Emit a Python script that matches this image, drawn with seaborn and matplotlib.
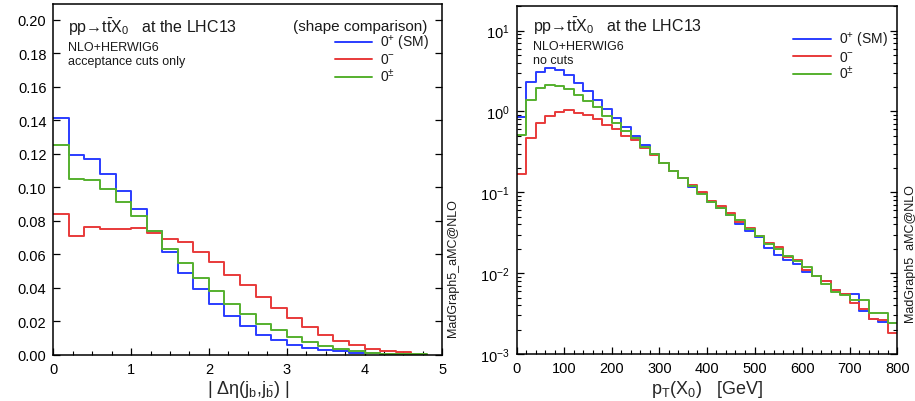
import numpy as np
import pandas as pd
import matplotlib
matplotlib.use("Agg")
import matplotlib.pyplot as plt
import seaborn as sns
from matplotlib.lines import Line2D
from matplotlib.ticker import MultipleLocator, FormatStrFormatter, LogLocator

# ---------------- data ----------------
# Left panel: |Delta eta(j_b, j_bbar)|, bins of 0.2 from 0 to 4.8
deta_edges = [round(0.2 * i, 1) for i in range(25)]
deta_sm = [0.141, 0.119, 0.117, 0.108, 0.098, 0.087, 0.074, 0.061, 0.049, 0.039,
           0.030, 0.023, 0.017, 0.012, 0.009, 0.006, 0.0037, 0.003, 0.002, 0.0012,
           0.0008, 0.0004, 0.0002, 0.0]
deta_minus = [0.084, 0.071, 0.076, 0.075, 0.075, 0.0755, 0.0725, 0.0693, 0.0671, 0.0611,
              0.0552, 0.0478, 0.0416, 0.0343, 0.0277, 0.0217, 0.0165, 0.0119, 0.0084, 0.0056,
              0.0036, 0.0022, 0.0014, 0.0]
deta_mix = [0.125, 0.105, 0.104, 0.099, 0.091, 0.083, 0.074, 0.063, 0.055, 0.046,
            0.038, 0.030, 0.024, 0.0185, 0.0147, 0.0106, 0.0074, 0.0054, 0.0036, 0.0022,
            0.0012, 0.0006, 0.0004, 0.0002]

# Right panel: pT(X0) [GeV], bins of 20 GeV from 0 to 800
pt_edges = list(range(0, 820, 20))
pt_sm = [0.85, 2.31, 3.07, 3.44, 3.28, 2.85, 2.24, 1.77, 1.38, 1.08,
         0.84, 0.64, 0.50, 0.39, 0.30, 0.23, 0.186, 0.150, 0.116, 0.097,
         0.076, 0.064, 0.053, 0.040, 0.033, 0.028, 0.0204, 0.017, 0.0144, 0.013,
         0.0103, 0.0091, 0.0080, 0.0062, 0.0055, 0.0055, 0.0034, 0.0027, 0.0025, 0.0024]
pt_minus = [0.17, 0.47, 0.72, 0.89, 0.98, 1.03, 0.96, 0.91, 0.80, 0.69,
            0.60, 0.50, 0.44, 0.35, 0.29, 0.23, 0.186, 0.150, 0.124, 0.100,
            0.079, 0.067, 0.055, 0.043, 0.036, 0.029, 0.0235, 0.021, 0.0157, 0.0144,
            0.0110, 0.0091, 0.0080, 0.0062, 0.0055, 0.0043, 0.0036, 0.0027, 0.0026, 0.0018]
pt_mix = [0.515, 1.40, 1.95, 2.10, 2.04, 1.91, 1.61, 1.34, 1.15, 0.88,
          0.72, 0.57, 0.47, 0.36, 0.30, 0.23, 0.186, 0.150, 0.120, 0.096,
          0.076, 0.064, 0.052, 0.045, 0.035, 0.029, 0.023, 0.020, 0.0165, 0.014,
          0.0119, 0.0091, 0.0074, 0.0059, 0.0053, 0.0046, 0.0046, 0.0032, 0.0032, 0.0024]

series_labels = [r"0$^{+}$ (SM)", r"0$^{-}$", r"0$^{\pm}$"]
colors = ["#2a3cff", "#e83a3a", "#55b02e"]

# ---------------- style ----------------
sns.set_style("ticks")
plt.rcParams["font.family"] = ["Liberation Sans", "DejaVu Sans"]
plt.rcParams["mathtext.fontset"] = "custom"
plt.rcParams["mathtext.rm"] = "Liberation Sans"
plt.rcParams["mathtext.it"] = "Liberation Sans:italic"
plt.rcParams["mathtext.bf"] = "Liberation Sans:bold"
plt.rcParams["axes.linewidth"] = 1.1
plt.rcParams["axes.edgecolor"] = "black"
plt.rcParams["text.color"] = "#1a1a1a"

fig = plt.figure(figsize=(9.15, 4.02), dpi=100)
axL = fig.add_axes([0.0583, 0.1152, 0.4251, 0.8731])
axR = fig.add_axes([0.5645, 0.1169, 0.4162, 0.8649])

def draw(ax, edges, series):
    edges = [float(e) for e in edges]
    centers = [0.5 * (a + b) for a, b in zip(edges[:-1], edges[1:])]
    for vals, c in zip(series, colors):
        df = pd.DataFrame({"x": centers, "w": vals})
        sns.histplot(data=df, x="x", weights="w", bins=edges, element="step",
                     fill=False, color=c, linewidth=1.4, ax=ax)

draw(axL, deta_edges, [deta_sm, deta_minus, deta_mix])
draw(axR, pt_edges, [pt_sm, pt_minus, pt_mix])

# ---- left axes ----
axL.set_xlim(0, 5)
axL.set_ylim(0, 0.2095)
axL.xaxis.set_major_locator(MultipleLocator(1))
axL.xaxis.set_minor_locator(MultipleLocator(0.25))
axL.yaxis.set_major_locator(MultipleLocator(0.02))
axL.yaxis.set_major_formatter(FormatStrFormatter("%.2f"))
axL.set_ylabel("")
axL.set_xlabel(r"| $\mathrm{\Delta\eta}$(j$_{\rm b}$,j$_{\bar{\rm b}}$) |", fontsize=13, labelpad=2)

# ---- right axes ----
axR.set_yscale("log")
axR.set_xlim(0, 800)
axR.set_ylim(1e-3, 20)
axR.xaxis.set_major_locator(MultipleLocator(100))
axR.xaxis.set_minor_locator(MultipleLocator(20))
axR.yaxis.set_major_locator(LogLocator(base=10, numticks=10))
axR.yaxis.set_minor_locator(LogLocator(base=10, subs=np.arange(2, 10), numticks=20))
axR.set_ylabel("")
axR.set_xlabel(r"p$_{\rm T}$(X$_0$)   [GeV]", fontsize=13, labelpad=2)

for ax in (axL, axR):
    for s in ax.spines.values():
        s.set_visible(True)
        s.set_linewidth(1.1)
    ax.tick_params(which="both", direction="in", top=False, right=True,
                   labelsize=10.5, colors="black", pad=5)
    ax.tick_params(which="major", length=5, width=0.9)
    ax.tick_params(which="minor", length=2.8, width=0.8)

# ---- annotations ----
title = "pp\u2192t$\\bar{\\rm t}$X$_0$   at the LHC13"
axL.text(0.038, 0.936, title, transform=axL.transAxes, fontsize=11.5, va="center", ha="left")
axL.text(0.038, 0.878, "NLO+HERWIG6", transform=axL.transAxes, fontsize=9, va="center", ha="left")
axL.text(0.038, 0.838, "acceptance cuts only", transform=axL.transAxes, fontsize=9, va="center", ha="left")
axL.text(0.962, 0.936, "(shape comparison)", transform=axL.transAxes, fontsize=11, va="center", ha="right")

axR.text(0.044, 0.944, title, transform=axR.transAxes, fontsize=11.5, va="center", ha="left")
axR.text(0.044, 0.887, "NLO+HERWIG6", transform=axR.transAxes, fontsize=9, va="center", ha="left")
axR.text(0.044, 0.846, "no cuts", transform=axR.transAxes, fontsize=9, va="center", ha="left")

handles = [Line2D([], [], color=c, lw=1.4) for c in colors]
axL.legend(handles, series_labels, loc="upper left", bbox_to_anchor=(0.716, 0.925),
           frameon=False, fontsize=10, handlelength=2.7, handletextpad=0.6,
           labelspacing=0.05, borderpad=0.2, borderaxespad=0)
axR.legend(handles, series_labels, loc="upper left", bbox_to_anchor=(0.72, 0.94),
           frameon=False, fontsize=10, handlelength=2.7, handletextpad=0.6,
           labelspacing=0.05, borderpad=0.2, borderaxespad=0)

fig.text(453 / 915, 1 - 268 / 402, "MadGraph5_aMC@NLO", rotation=90, fontsize=9,
         ha="center", va="center")
fig.text(910 / 915, 1 - 253 / 402, "MadGraph5_aMC@NLO", rotation=90, fontsize=9,
         ha="center", va="center")

fig.savefig("out.png", dpi=100)
